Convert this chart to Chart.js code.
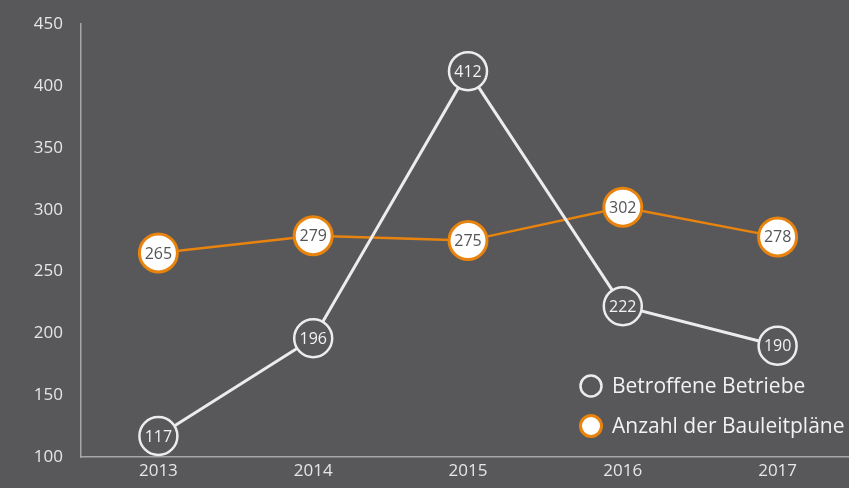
<!DOCTYPE html>
<html>
<head>
<meta charset="utf-8">
<script src="https://cdn.jsdelivr.net/npm/chart.js@4"></script>
<style>
  html, body { margin: 0; padding: 0; background: #58585a; overflow: hidden; }
  #wrap { width: 849px; height: 488px; overflow: hidden; }
  #chart { margin-top: -4px; display: block; }
</style>
</head>
<body>
<div id="wrap"><canvas id="chart" width="877" height="492"></canvas></div>
<script>
let years = ['2013', '2014', '2015', '2016', '2017']
let betriebe = [117, 196, 412, 222, 190]
let bauleitplaene = [265, 279, 275, 302, 278]
let seriesNames = ['Betroffene Betriebe', 'Anzahl der Bauleitpläne']

let bg = '#58585a'
let orange = '#e8830e'
let font = "'Open Sans', 'Noto Sans', sans-serif"

// numbers inside the point circles
let pointLabels = {
    id: 'pointLabels',
    afterDatasetsDraw(chart) {
        let ctx = chart.ctx
        ctx.save()
        ctx.font = '16px ' + font
        ctx.textAlign = 'center'
        ctx.textBaseline = 'middle'
        chart.data.datasets.forEach((ds, i) => {
            chart.getDatasetMeta(i).data.forEach((pt, j) => {
                ctx.fillStyle = i == 0 ? '#f2f2f2' : '#555557'
                ctx.fillText(ds.data[j], pt.x, pt.y + 1)
            })
        })
        ctx.restore()
    }
}

// legend in the lower right corner
let cornerLegend = {
    id: 'cornerLegend',
    afterDraw(chart) {
        let ctx = chart.ctx
        ctx.save()
        ctx.font = '21px ' + font
        ctx.textBaseline = 'middle'
        chart.data.datasets.forEach((ds, i) => {
            let y = 390 + i * 40
            ctx.beginPath()
            ctx.arc(591, y, 10.5, 0, Math.PI * 2)
            ctx.fillStyle = ds.pointBackgroundColor
            ctx.fill()
            ctx.lineWidth = i == 0 ? 2.5 : 3
            ctx.strokeStyle = ds.pointBorderColor
            ctx.stroke()
            ctx.fillStyle = '#f2f2f2'
            ctx.fillText(ds.label, 612, y + 1)
        })
        ctx.restore()
    }
}

new Chart(document.getElementById('chart'), {
    type: 'line',
    data: {
        labels: years,
        datasets: [{
            label: seriesNames[0],
            data: betriebe,
            borderColor: '#ececec',
            borderWidth: 3,
            pointRadius: 19,
            pointBorderWidth: 2.5,
            pointBackgroundColor: bg,
            pointBorderColor: '#ececec',
            tension: 0
        },
        {
            label: seriesNames[1],
            data: bauleitplaene,
            borderColor: orange,
            borderWidth: 2.5,
            pointRadius: 19,
            pointBorderWidth: 3,
            pointBackgroundColor: '#ffffff',
            pointBorderColor: orange,
            tension: 0
        }]
    },
    options: {
        responsive: false,
        animation: false,
        layout: { padding: { top: 15, right: 4, left: 0, bottom: 0 } },
        plugins: { legend: { display: false }, tooltip: { enabled: false } },
        scales: {
            x: {
                offset: true,
                grid: { display: false, drawTicks: false },
                border: { display: true, color: '#a6a6a6', width: 1.5 },
                ticks: { color: '#e6e6e6', font: { family: font, size: 17 }, padding: 4 },
                afterFit: s => { s.height = 31 }
            },
            y: {
                min: 100,
                max: 450,
                grid: { display: false, drawTicks: false },
                border: { display: true, color: '#a6a6a6', width: 1.5 },
                ticks: { stepSize: 50, color: '#e6e6e6', font: { family: font, size: 17 }, padding: 18 },
                afterFit: s => { s.width = 81 }
            }
        }
    },
    plugins: [pointLabels, cornerLegend]
})
</script>
</body>
</html>
